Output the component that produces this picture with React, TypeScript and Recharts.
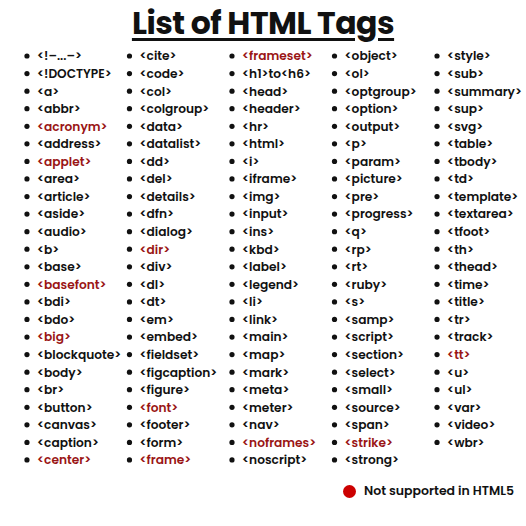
import React from "react";
import { ScatterChart, Scatter, XAxis, YAxis } from "recharts";

const col1 = ["<!–...–>", "<!DOCTYPE>", "<a>", "<abbr>", "<acronym>", "<address>", "<applet>", "<area>", "<article>", "<aside>", "<audio>", "<b>", "<base>", "<basefont>", "<bdi>", "<bdo>", "<big>", "<blockquote>", "<body>", "<br>", "<button>", "<canvas>", "<caption>", "<center>"];
const col2 = ["<cite>", "<code>", "<col>", "<colgroup>", "<data>", "<datalist>", "<dd>", "<del>", "<details>", "<dfn>", "<dialog>", "<dir>", "<div>", "<dl>", "<dt>", "<em>", "<embed>", "<fieldset>", "<figcaption>", "<figure>", "<font>", "<footer>", "<form>", "<frame>"];
const col3 = ["<frameset>", "<h1>to<h6>", "<head>", "<header>", "<hr>", "<html>", "<i>", "<iframe>", "<img>", "<input>", "<ins>", "<kbd>", "<label>", "<legend>", "<li>", "<link>", "<main>", "<map>", "<mark>", "<meta>", "<meter>", "<nav>", "<noframes>", "<noscript>"];
const col4 = ["<object>", "<ol>", "<optgroup>", "<option>", "<output>", "<p>", "<param>", "<picture>", "<pre>", "<progress>", "<q>", "<rp>", "<rt>", "<ruby>", "<s>", "<samp>", "<script>", "<section>", "<select>", "<small>", "<source>", "<span>", "<strike>", "<strong>"];
const col5 = ["<style>", "<sub>", "<summary>", "<sup>", "<svg>", "<table>", "<tbody>", "<td>", "<template>", "<textarea>", "<tfoot>", "<th>", "<thead>", "<time>", "<title>", "<tr>", "<track>", "<tt>", "<u>", "<ul>", "<var>", "<video>", "<wbr>"];
const columns = [col1, col2, col3, col4, col5];
const notSupported = ["<acronym>", "<applet>", "<basefont>", "<big>", "<center>", "<dir>", "<font>", "<frame>", "<frameset>", "<noframes>", "<strike>", "<tt>"];

const RED = "#9a1515";
const INK = "#111";
const FONT = "Poppins, 'Open Sans', sans-serif";

const data = columns.flatMap((tags, col) => tags.map((tag, row) => ({ x: col, y: row, tag })));

const TagMark = (props: any) => {
  const { cx, cy, payload } = props;
  const red = notSupported.includes(payload.tag);
  return (
    <g>
      <circle cx={cx} cy={cy} r={2.6} fill={INK} />
      <text x={cx + 10} y={cy} dy="0.36em" fontSize={12.2} fontWeight={600} fontFamily={FONT} fill={red ? RED : INK}>
        {payload.tag}
      </text>
    </g>
  );
};

export default function App() {
  document.body.style.margin = "0";
  return (
    <div style={{ position: "relative", width: 526, height: 526, background: "#fff" }}>
      <div style={{ position: "absolute", top: 0, left: 0, width: 526, textAlign: "center", fontFamily: FONT, fontWeight: 700, fontSize: 31.5, color: INK, textDecoration: "underline", textUnderlineOffset: 4, letterSpacing: -0.5 }}>
        List of HTML Tags
      </div>
      <ScatterChart width={526} height={526} margin={{ top: 0, right: 0, bottom: 0, left: 0 }}>
        <XAxis type="number" dataKey="x" domain={[-0.263, 4.868]} hide />
        <YAxis type="number" dataKey="y" domain={[-3.19, 26.76]} reversed hide />
        <Scatter data={data} shape={TagMark} isAnimationActive={false} />
      </ScatterChart>
      <div style={{ position: "absolute", top: 482, left: 343, display: "flex", alignItems: "center", fontFamily: FONT, fontWeight: 600, fontSize: 12.5, color: INK }}>
        <span style={{ width: 13, height: 13, borderRadius: "50%", background: "#c00", display: "inline-block", marginRight: 8 }} />
        Not supported in HTML5
      </div>
    </div>
  );
}
